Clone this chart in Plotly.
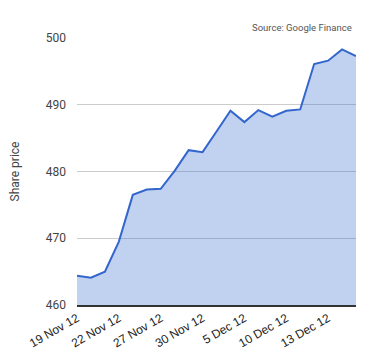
import plotly.graph_objects as go

dates = ["19 Nov 12", "20 Nov 12", "21 Nov 12", "22 Nov 12", "23 Nov 12",
         "26 Nov 12", "27 Nov 12", "28 Nov 12", "29 Nov 12", "30 Nov 12",
         "3 Dec 12", "4 Dec 12", "5 Dec 12", "6 Dec 12", "7 Dec 12",
         "10 Dec 12", "11 Dec 12", "12 Dec 12", "13 Dec 12", "14 Dec 12",
         "17 Dec 12"]
prices = [464.4, 464.1, 465.0, 469.5, 476.5, 477.3, 477.4, 480.1, 483.2, 482.9,
          486.0, 489.1, 487.4, 489.2, 488.2, 489.1, 489.3, 496.1, 496.6, 498.3,
          497.3]
tick_labels = ["19 Nov 12", "22 Nov 12", "27 Nov 12", "30 Nov 12",
               "5 Dec 12", "10 Dec 12", "13 Dec 12"]
y_ticks = [460, 470, 480, 490, 500]

fig = go.Figure()
fig.add_trace(go.Scatter(
    x=dates, y=prices, mode="lines",
    line=dict(color="#3366cc", width=2),
    fill="tozeroy", fillcolor="rgba(51,102,204,0.3)",
    hoverinfo="x+y",
))

fig.update_layout(
    width=372, height=352,
    margin=dict(l=69, r=24, t=30, b=55, autoexpand=False),
    paper_bgcolor="white", plot_bgcolor="white",
    font=dict(family="Roboto, Arial, sans-serif", size=12, color="#444"),
    showlegend=False,
    xaxis=dict(
        type="category", range=[0, len(dates) - 1], automargin=False,
        tickmode="array", tickvals=tick_labels, ticktext=tick_labels,
        tickangle=-30,
        tickfont=dict(family="Arial, Liberation Sans, sans-serif", size=12, color="#222"),
        showgrid=False, showline=True, linecolor="#333", linewidth=1.5,
        ticks="", zeroline=False,
    ),
    yaxis=dict(
        range=[460, 500], tickvals=y_ticks, automargin=False,
        showgrid=True, gridcolor="#cccccc", gridwidth=1,
        zeroline=False, ticks="", ticklabelstandoff=10,
        tickfont=dict(family="Roboto, Arial, sans-serif", size=12, color="#444"),
        title=dict(text="Share price", font=dict(size=12, color="#444"), standoff=26),
    ),
    annotations=[dict(
        text="Source: Google Finance", xref="paper", yref="paper",
        x=1.0, y=1.0, xanchor="right", yanchor="bottom", yshift=3, xshift=-2,
        showarrow=False, font=dict(family="Roboto, Arial, sans-serif", size=9.5, color="#555"),
    )],
)

fig.write_html("out.html")
